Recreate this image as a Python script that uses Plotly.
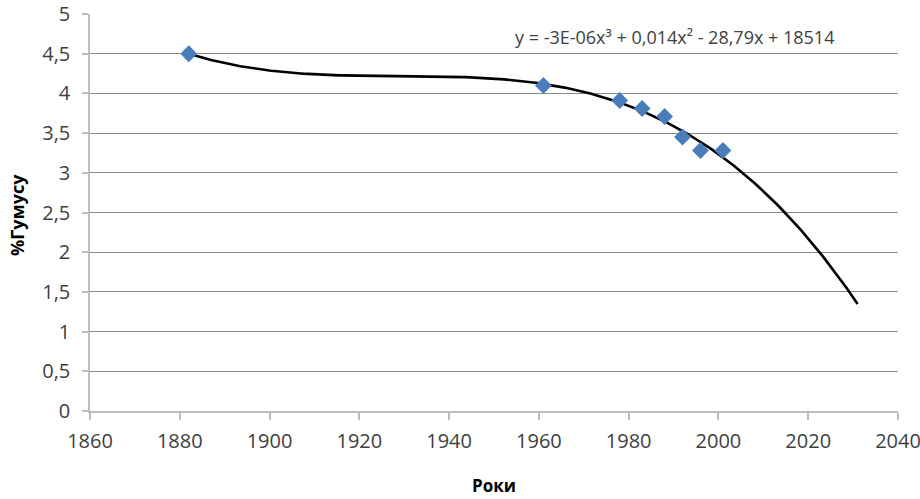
import numpy as np
import plotly.graph_objects as go

# Data
years = [1882, 1961, 1978, 1983, 1988, 1992, 1996, 2001]
humus = [4.5, 4.1, 3.91, 3.81, 3.71, 3.45, 3.28, 3.28]
trend_start = 1882
trend_end = 2031  # forecast forward 30 years
equation_text = "y = -3E-06x³ + 0,014x² - 28,79x + 18514"
x_title = "Роки"
y_title = "%Гумусу"
y_tickvals = [0, 0.5, 1, 1.5, 2, 2.5, 3, 3.5, 4, 4.5, 5]
y_ticktext = ["0", "0,5", "1", "1,5", "2", "2,5", "3", "3,5", "4", "4,5", "5"]
x_tickvals = [1860, 1880, 1900, 1920, 1940, 1960, 1980, 2000, 2020, 2040]

# Polynomial (3rd order) trendline fitted to the data
xm = np.mean(years)
coef = np.polyfit(np.array(years) - xm, humus, 3)
tx = np.linspace(trend_start, trend_end, 300)
ty = np.polyval(coef, tx - xm)

FONT = "Open Sans"
TXT = "#404040"
GRID = "#8a8a8a"
AXIS = "#bdbdbd"

W, H = 920, 499
L, R, T, B = 90, 22, 14, 88
PW, PH = W - L - R, H - T - B

def px(xp):
    return (xp - L) / PW

def py(yp):
    return 1 - (yp - T) / PH

fig = go.Figure()
fig.add_trace(go.Scatter(
    x=tx, y=ty, mode="lines",
    line=dict(color="black", width=2.6),
    showlegend=False, hoverinfo="skip"))
fig.add_trace(go.Scatter(
    x=years, y=humus, mode="markers",
    marker=dict(symbol="diamond", size=13, color="#4a7ebb"),
    showlegend=False))

fig.update_layout(
    width=W, height=H,
    margin=dict(l=L, r=R, t=T, b=B, pad=0),
    paper_bgcolor="white", plot_bgcolor="white",
    font=dict(family=FONT, size=20, color=TXT),
    annotations=[
        dict(xref="paper", yref="paper", x=px(513), y=py(37.5),
             xanchor="left", yanchor="middle", text=equation_text,
             showarrow=False, font=dict(family=FONT, size=18, color=TXT)),
        dict(xref="paper", yref="paper", x=px(494), y=py(486),
             xanchor="center", yanchor="middle", text="<b>" + x_title + "</b>",
             showarrow=False, font=dict(family=FONT, size=17, color="black")),
        dict(xref="paper", yref="paper", x=px(17), y=py(215),
             xanchor="center", yanchor="middle", text="<b>" + y_title + "</b>",
             textangle=-90, showarrow=False,
             font=dict(family=FONT, size=18, color="black")),
    ],
    xaxis=dict(
        range=[1860, 2040], tickvals=x_tickvals, automargin=False,
        showgrid=False, zeroline=False,
        showline=True, linecolor=AXIS, linewidth=1.5,
        ticks="outside", ticklen=7, tickcolor=AXIS, tickwidth=1.5,
        ticklabelstandoff=4, ticklabeloverflow="allow",
        tickfont=dict(family=FONT, size=20, color=TXT),
    ),
    yaxis=dict(
        range=[0, 5], tickvals=y_tickvals, ticktext=y_ticktext, automargin=False,
        showgrid=True, gridcolor=GRID, gridwidth=1, zeroline=False,
        showline=True, linecolor=AXIS, linewidth=1.5,
        ticks="outside", ticklen=6, tickcolor=AXIS, tickwidth=1.5,
        ticklabelstandoff=8, ticklabeloverflow="allow",
        tickfont=dict(family=FONT, size=20, color=TXT),
    ),
)

fig.write_html(
    "out.html",
    config={"displayModeBar": False},
    post_script="document.body.style.margin='0';document.body.style.padding='0';",
)
